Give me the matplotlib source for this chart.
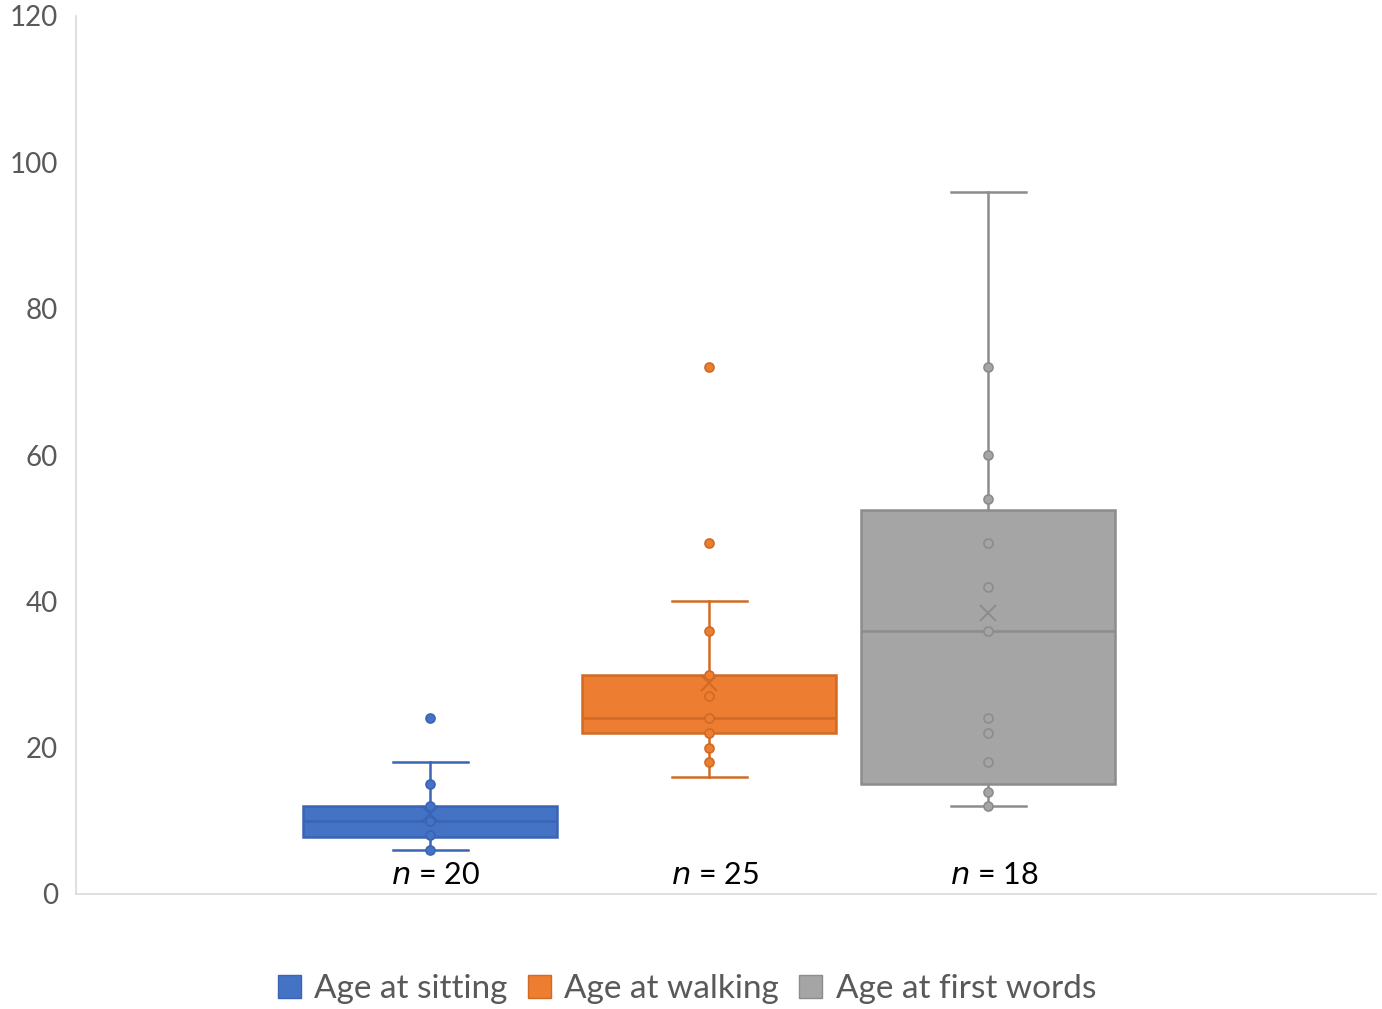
import numpy as np
import matplotlib.pyplot as plt
from matplotlib.patches import Patch

plt.rcParams['font.family'] = ['Lato', 'DejaVu Sans']

# 数据：三个组
labels = ['Age at sitting', 'Age at walking', 'Age at first words']
n_labels = ['20', '25', '18']
colors = ['#4472C4', '#ED7D31', '#A5A5A5']
edges = ['#3A64B4', '#D06A24', '#8C8C8C']

q1 = [7.8, 22, 15]
med = [10, 24, 36]
q3 = [12, 30, 52.5]
whislo = [6, 16, 12]
whishi = [18, 40, 96]
means = [11, 28.8, 38.4]
points = [
    [6, 8, 10, 12, 15, 24],
    [18, 20, 22, 24, 27, 30, 36, 48, 72],
    [12, 14, 18, 22, 24, 36, 42, 48, 54, 60, 72],
]

fig = plt.figure(figsize=(13.82, 10.09), dpi=100)
ax = fig.add_axes([76/1382, 1-894/1009, 1300/1382, 878/1009])

pos = [1, 2, 3]
for i in range(3):
    st = [dict(q1=q1[i], med=med[i], q3=q3[i], whislo=whislo[i], whishi=whishi[i],
               mean=means[i], fliers=[])]
    ax.bxp(st, positions=[pos[i]], widths=0.91, patch_artist=True, showmeans=True,
           showfliers=False,
           boxprops=dict(facecolor=colors[i], edgecolor=edges[i], linewidth=1.8),
           medianprops=dict(color=edges[i], linewidth=1.8),
           whiskerprops=dict(color=edges[i], linewidth=1.8),
           capprops=dict(color=edges[i], linewidth=1.8),
           capwidths=0.27,
           meanprops=dict(marker='x', markersize=12, markeredgecolor=edges[i],
                          markeredgewidth=1.4, zorder=4))
    ax.plot([pos[i]] * len(points[i]), points[i], 'o', ms=6.5, mfc=colors[i],
            mec=edges[i], mew=1.2, zorder=5)
    ax.text(pos[i] + 0.02, 2.6, '$n$ = ' + n_labels[i], ha='center', va='center',
            fontsize=22, color='black')

ax.set_xlim(-0.27, 4.39)
ax.set_ylim(0, 120)
ax.set_yticks(range(0, 121, 20))
ax.set_xticks([])
ax.tick_params(axis='y', length=0, labelsize=20, labelcolor='#595959', pad=13)
for s in ['top', 'right']:
    ax.spines[s].set_visible(False)
ax.spines['left'].set_color('#D9D9D9')
ax.spines['bottom'].set_color('#D9D9D9')
ax.spines['left'].set_linewidth(1.2)
ax.spines['bottom'].set_linewidth(1.2)

handles = [Patch(facecolor=colors[i], edgecolor=edges[i], label=labels[i]) for i in range(3)]
fig.legend(handles=handles, loc='center', bbox_to_anchor=(0.497, 1-989/1009), ncol=3,
           frameon=False, fontsize=24, labelcolor='#595959', handlelength=0.7,
           handleheight=0.7, handletextpad=0.4, columnspacing=0.6)

fig.savefig('out.png', dpi=100)
